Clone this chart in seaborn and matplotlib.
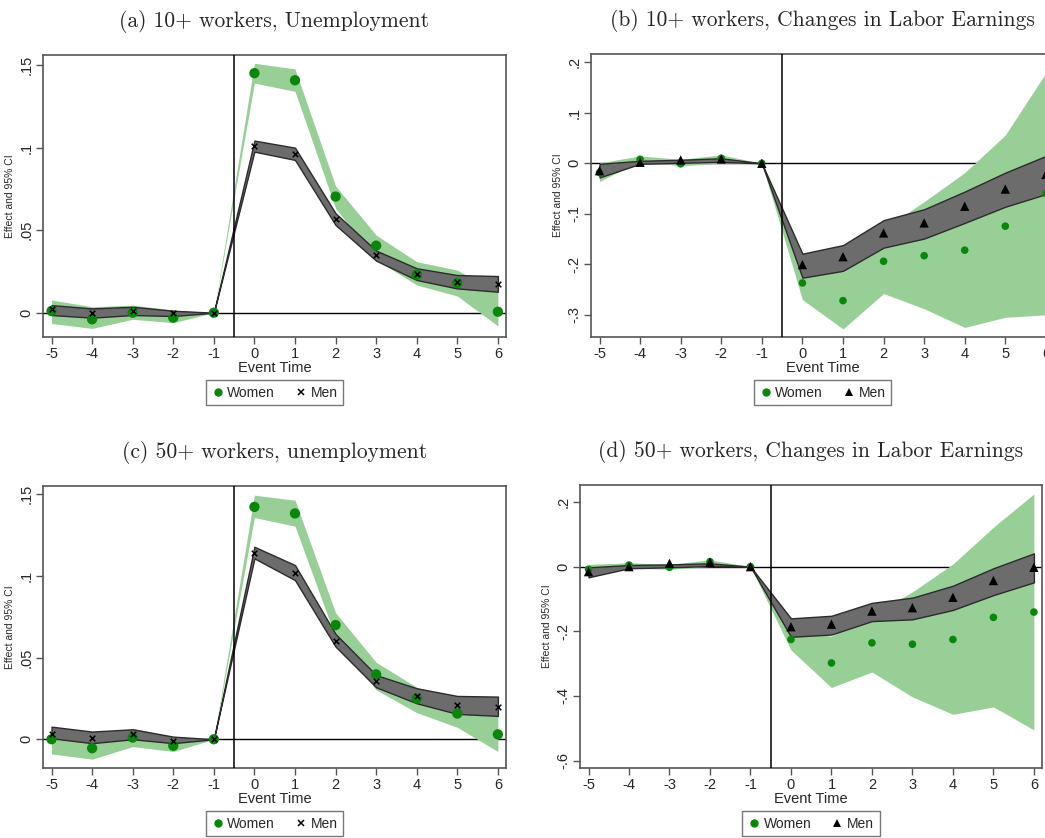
import matplotlib
matplotlib.use("Agg")
import matplotlib.pyplot as plt
from matplotlib.lines import Line2D
import seaborn as sns
import pandas as pd

sns.set_style("white")
plt.rcParams["font.family"] = ["Liberation Sans", "DejaVu Sans"]

event_time = [-5, -4, -3, -2, -1, 0, 1, 2, 3, 4, 5, 6]
x_ticks = [-5, -4, -3, -2, -1, 0, 1, 2, 3, 4, 5, 6]

# (a) 10+ workers, unemployment
a_women = [0.001, -0.004, 0.0, -0.003, 0.0, 0.145, 0.1407, 0.0703, 0.0406, 0.023, 0.018, 0.0006]
a_women_lo = [-0.0065, -0.0095, -0.004, -0.006, 0.0, 0.139, 0.134, 0.0632, 0.0319, 0.0168, 0.0101, -0.008]
a_women_hi = [0.0077, 0.0036, 0.0046, 0.0016, 0.0, 0.151, 0.1476, 0.0767, 0.047, 0.0309, 0.0258, 0.0121]
a_men = [0.002, 0.0, 0.0012, -0.0004, 0.0, 0.101, 0.0963, 0.057, 0.0347, 0.0232, 0.0188, 0.0176]
a_men_lo = [-0.0014, -0.003, -0.0014, -0.002, 0.0, 0.0975, 0.0925, 0.0531, 0.0315, 0.0198, 0.0147, 0.0127]
a_men_hi = [0.0046, 0.0026, 0.0036, 0.0012, 0.0, 0.1042, 0.0999, 0.0602, 0.0376, 0.0269, 0.0228, 0.0222]

# (b) 10+ workers, changes in labor earnings
b_women = [-0.0185, 0.008, -0.001, 0.01, 0.0, -0.237, -0.272, -0.194, -0.183, -0.172, -0.1245, -0.06]
b_women_lo = [-0.036, 0.005, -0.005, 0.0, 0.0, -0.27, -0.328, -0.258, -0.288, -0.325, -0.305, -0.30]
b_women_hi = [0.001, 0.0146, 0.008, 0.0166, 0.0, -0.20, -0.215, -0.13, -0.076, -0.0185, 0.056, 0.179]
b_men = [-0.0146, 0.002, 0.0066, 0.0086, 0.0, -0.2007, -0.185, -0.138, -0.118, -0.085, -0.051, -0.022]
b_men_lo = [-0.028, -0.001, 0.001, 0.003, 0.0, -0.2265, -0.213, -0.167, -0.149, -0.118, -0.086, -0.061]
b_men_hi = [-0.001, 0.005, 0.007, 0.01, 0.0, -0.179, -0.162, -0.1126, -0.091, -0.056, -0.0185, 0.0146]

# (c) 50+ workers, unemployment
c_women = [0.0, -0.0055, 0.001, -0.004, 0.0, 0.1422, 0.1382, 0.0699, 0.0397, 0.025, 0.0157, 0.003]
c_women_lo = [-0.009, -0.0122, -0.0045, -0.0075, 0.0, 0.1357, 0.1304, 0.0624, 0.0302, 0.0163, 0.0073, -0.0075]
c_women_hi = [0.0037, 0.0006, 0.0067, 0.0016, 0.0, 0.1494, 0.1463, 0.0774, 0.0471, 0.0318, 0.024, 0.0169]
c_men = [0.0033, 0.0006, 0.003, -0.0008, 0.0, 0.1137, 0.1015, 0.0603, 0.0359, 0.0265, 0.021, 0.02]
c_men_lo = [0.0006, -0.0024, 0.0, -0.0024, 0.0, 0.1107, 0.0974, 0.0567, 0.0318, 0.022, 0.0155, 0.0143]
c_men_hi = [0.0077, 0.0047, 0.0061, 0.0016, 0.0, 0.1178, 0.1066, 0.0644, 0.0393, 0.0312, 0.0265, 0.0261]

# (d) 50+ workers, changes in labor earnings
d_women = [-0.008, 0.005, -0.002, 0.0155, 0.0, -0.2254, -0.298, -0.2358, -0.24, -0.2254, -0.157, -0.1406]
d_women_lo = [-0.029, -0.005, -0.008, 0.0, 0.0, -0.258, -0.374, -0.326, -0.403, -0.457, -0.434, -0.505]
d_women_hi = [0.007, 0.012, 0.007, 0.021, 0.0, -0.20, -0.215, -0.15, -0.078, 0.008, 0.122, 0.225]
d_men = [-0.0155, 0.0, 0.0103, 0.0134, 0.0, -0.186, -0.178, -0.1375, -0.127, -0.095, -0.043, -0.002]
d_men_lo = [-0.033, -0.005, -0.002, 0.002, 0.0, -0.217, -0.21, -0.1685, -0.163, -0.134, -0.088, -0.0486]
d_men_hi = [-0.002, 0.005, 0.007, 0.0103, 0.0, -0.16, -0.152, -0.112, -0.096, -0.059, -0.005, 0.041]

unemp_ticks = [0, 0.05, 0.1, 0.15]
unemp_labels = ["0", ".05", ".1", ".15"]
b_ticks = [-0.3, -0.2, -0.1, 0, 0.1, 0.2]
b_labels = ["-.3", "-.2", "-.1", "0", ".1", ".2"]
d_ticks = [-0.6, -0.4, -0.2, 0, 0.2]
d_labels = ["-.6", "-.4", "-.2", "0", ".2"]

titles = ["(a) 10+ workers, Unemployment",
          "(b) 10+ workers, Changes in Labor Earnings",
          "(c) 50+ workers, unemployment",
          "(d) 50+ workers, Changes in Labor Earnings"]

GREEN_FILL = "#97cf97"
GREEN_DOT = "#0a870a"
GRAY_FILL = "#6c6c6c"
FRAME = "#555555"

W, H = 1045, 838
fig = plt.figure(figsize=(W / 100, H / 100), dpi=100)


def px_axes(left, top, right, bottom):
    return fig.add_axes([left / W, 1 - bottom / H, (right - left) / W, (bottom - top) / H])


def panel(ax, title, w, wlo, whi, m, mlo, mhi, yticks, ylabels, ylim, men_marker, wsize, msize):
    df = pd.DataFrame({"t": event_time, "w": w, "wlo": wlo, "whi": whi,
                       "m": m, "mlo": mlo, "mhi": mhi})
    ax.axhline(0, color="black", lw=1, zorder=1)
    ax.fill_between(df["t"], df["wlo"], df["whi"], color=GREEN_FILL, lw=0, zorder=2)
    ax.fill_between(df["t"], df["mlo"], df["mhi"], facecolor=GRAY_FILL,
                    edgecolor="#2b2b2b", lw=1, zorder=3)
    ax.axvline(-0.5, color="black", lw=1.1, zorder=4)
    sns.scatterplot(data=df, x="t", y="w", ax=ax, color=GREEN_DOT, s=wsize,
                    edgecolor="none", zorder=5)
    if men_marker == "x":
        sns.scatterplot(data=df, x="t", y="m", ax=ax, color="black", marker="x",
                        s=msize, linewidth=1.1, zorder=6)
    else:
        sns.scatterplot(data=df, x="t", y="m", ax=ax, color="black", marker="^",
                        s=msize, edgecolor="none", zorder=6)
    ax.set_xlim(-5.21, 6.2)
    ax.set_ylim(*ylim)
    ax.set_xticks(x_ticks)
    ax.set_xticklabels([str(v) for v in x_ticks])
    ax.set_yticks(yticks)
    ax.set_yticklabels(ylabels, rotation=90, va="center")
    ax.tick_params(axis="both", direction="out", length=5, width=1, color=FRAME,
                   labelsize=10.5, pad=2, bottom=True, left=True)
    for s in ax.spines.values():
        s.set_color(FRAME)
        s.set_linewidth(1.2)
    ax.set_xlabel("Event Time", fontsize=10.5, labelpad=0)
    ax.set_ylabel("Effect and 95% CI", fontsize=7.5, labelpad=3)
    ax.set_title(title, family="cmr10", fontsize=15.5, pad=20)
    handles = [Line2D([], [], ls="none", marker="o", color=GREEN_DOT, markersize=5),
               Line2D([], [], ls="none", marker=men_marker, color="black",
                      markersize=4.5 if men_marker == "x" else 6,
                      markeredgewidth=1.1 if men_marker == "x" else 0)]
    ax.legend(handles, ["Women", "Men"], ncol=2, loc="upper center",
              bbox_to_anchor=(0.5, -0.153), frameon=True, fancybox=False,
              edgecolor=FRAME, fontsize=10, handletextpad=0.25, columnspacing=1.4,
              borderpad=0.4, handlelength=0.9, borderaxespad=0)


ax_a = px_axes(43, 55, 506, 337)
ax_b = px_axes(591, 54, 1054, 337)
ax_c = px_axes(43, 486, 506, 768)
ax_d = px_axes(580, 485, 1042, 768)

panel(ax_a, titles[0], a_women, a_women_lo, a_women_hi, a_men, a_men_lo, a_men_hi,
      unemp_ticks, unemp_labels, (-0.0147, 0.156), "x", 55, 16)
panel(ax_b, titles[1], b_women, b_women_lo, b_women_hi, b_men, b_men_lo, b_men_hi,
      b_ticks, b_labels, (-0.344, 0.2165), "^", 30, 45)
panel(ax_c, titles[2], c_women, c_women_lo, c_women_hi, c_men, c_men_lo, c_men_hi,
      unemp_ticks, unemp_labels, (-0.0176, 0.155), "x", 55, 16)
panel(ax_d, titles[3], d_women, d_women_lo, d_women_hi, d_men, d_men_lo, d_men_hi,
      d_ticks, d_labels, (-0.623, 0.2526), "^", 30, 45)

fig.savefig("out.png", dpi=100)
